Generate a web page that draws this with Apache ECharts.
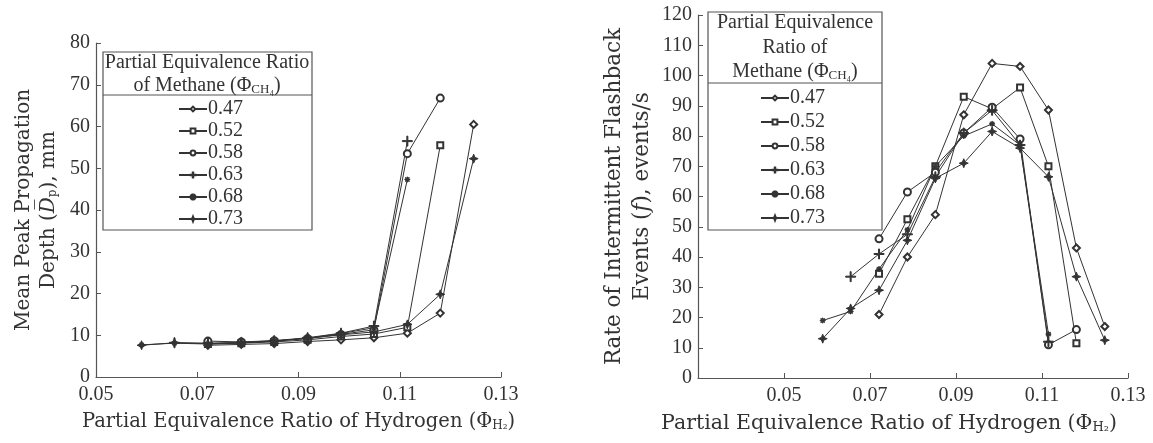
<!DOCTYPE html>
<html>
<head>
<meta charset="utf-8">
<script src="https://cdn.jsdelivr.net/npm/echarts@6/dist/echarts.min.js"></script>
<style>
  html, body { margin: 0; padding: 0; background: #fff; }
  #chart { width: 1153px; height: 443px; }
</style>
</head>
<body>
<div id="chart"></div>
<script>
// 数据区
var hydrogen = [0.0590, 0.0655, 0.0721, 0.0787, 0.0852, 0.0918, 0.0984, 0.1049, 0.1115, 0.1180, 0.1246];
var methane = ['0.47', '0.52', '0.58', '0.63', '0.68', '0.73'];

// 左图：平均峰值传播深度 mm
var depth47 = [null, null, 7.6, 7.8, 8.0, 8.5, 8.9, 9.4, 10.5, 15.3, 60.5];
var depth52 = [null, null, 7.9, 8.1, 8.4, 8.9, 9.7, 10.3, 11.9, 55.5, null];
var depth58 = [null, null, 8.6, 8.4, 8.7, 9.2, 10.2, 11.3, 53.5, 66.8, null];
var depth63 = [null, 8.2, 8.1, 8.3, 8.7, 9.4, 10.5, 12.2, 56.5, null, null];
var depth68 = [7.7, 8.1, 7.9, 8.2, 8.6, 9.3, 10.4, 11.8, 47.3, null, null];
var depth73 = [7.6, 8.2, 8.0, 8.2, 8.6, 9.3, 10.1, 10.8, 12.6, 19.8, 52.3];

// 右图：间歇回火频率 events/s
var rate47 = [null, null, 21, 40, 54, 87, 104, 103, 88.6, 43, 17];
var rate52 = [null, null, 34.5, 52.5, 70, 93, 89, 96, 70, 11.5, null];
var rate58 = [null, null, 46, 61.5, 68, 81, 89.5, 79, 11, 16, null];
var rate63 = [null, 33.5, 41, 47.5, 66.5, 81, 88.5, 77, 12, null, null];
var rate68 = [19, 22, 36, 49, 70, 80, 84, 77, 14.5, null, null];
var rate73 = [13, 23, 29, 45.5, 66, 71, 81.5, 76, 66.5, 33.5, 12.5];

var depthTicks = [0, 80, 10];
var rateTicks = [0, 120, 10];

(function() {
    var myChart = echarts.init(document.getElementById('chart'))
    var font = 'Liberation Serif'
    var titleFont = 'DejaVu Serif'
    var ink = '#333'

    // 标记样式
    var plus = 'path://M-0.1,-1 H0.1 V-0.1 H1 V0.1 H0.1 V1 H-0.1 V0.1 H-1 V-0.1 H-0.1 Z'
    var star4 = 'path://M0,-1 L0.28,-0.28 L1,0 L0.28,0.28 L0,1 L-0.28,0.28 L-1,0 L-0.28,-0.28 Z'
    var aster = 'path://M-0.15,-1 H0.15 V-0.35 L0.7,-0.8 L0.85,-0.6 L0.35,-0.15 H1 V0.15 H0.35 L0.85,0.6 L0.7,0.8 L0.15,0.35 V1 H-0.15 V0.35 L-0.7,0.8 L-0.85,0.6 L-0.35,0.15 H-1 V-0.15 H-0.35 L-0.85,-0.6 L-0.7,-0.8 L-0.15,-0.35 Z'
    var marks = [
        { symbol: 'emptyDiamond', size: 7 },
        { symbol: 'emptyRect', size: 6 },
        { symbol: 'emptyCircle', size: 7 },
        { symbol: plus, size: 10 },
        { symbol: aster, size: 5 },
        { symbol: star4, size: 9 }
    ]

    function pairs(vals) {
        var out = []
        hydrogen.forEach(function(x, i) {
            if (vals[i] != null) out.push([x, vals[i]])
        })
        return out
    }

    function makeSeries(list, idx) {
        return list.map(function(vals, k) {
            return {
                name: methane[k],
                type: 'line',
                xAxisIndex: idx,
                yAxisIndex: idx,
                data: pairs(vals),
                symbol: marks[k].symbol,
                symbolSize: marks[k].size,
                showAllSymbol: true,
                lineStyle: { color: ink, width: 1 },
                itemStyle: { color: ink, borderColor: ink, borderWidth: 1 },
                emphasis: { disabled: true },
                z: 3
            }
        })
    }

    // 坐标轴标题（富文本：斜体 / 下标）
    function titleRich(size, lh) {
        return {
            t: { fontFamily: titleFont, fontSize: size, color: ink, lineHeight: lh },
            i: { fontFamily: titleFont, fontSize: size, color: ink, fontStyle: 'italic', lineHeight: lh },
            s: { fontFamily: titleFont, fontSize: Math.round(size * 0.62), color: ink, padding: [8, 0, 0, 0] }
        }
    }

    function xAxisOf(idx, min, size) {
        return {
            type: 'value',
            gridIndex: idx,
            min: min,
            max: 0.13,
            interval: 0.02,
            name: '{t|Partial Equivalence Ratio of Hydrogen (Φ}{s|H₂}{t|)}',
            nameLocation: 'middle',
            nameGap: 35,
            nameTextStyle: {
                rich: titleRich(size),
                padding: idx === 1 ? [0, 48, 0, 0] : 0
            },
            axisLine: { lineStyle: { color: '#555', width: 1.2 } },
            axisTick: { inside: true, length: 5, lineStyle: { color: '#555' } },
            axisLabel: {
                fontFamily: font, fontSize: 20, color: ink, margin: 8,
                formatter: function(v) { return v < 0.04 ? '' : v.toFixed(2) }
            },
            splitLine: { show: false }
        }
    }

    function yAxisOf(idx, ticks, name, gap, size, lh) {
        return {
            type: 'value',
            gridIndex: idx,
            min: ticks[0],
            max: ticks[1],
            interval: ticks[2],
            name: name,
            nameLocation: 'middle',
            nameGap: gap,
            nameRotate: 90,
            nameTextStyle: {
                fontFamily: titleFont, fontSize: size, color: ink, lineHeight: lh,
                rich: titleRich(size, lh)
            },
            axisLine: { show: true, lineStyle: { color: '#555', width: 1.2 } },
            axisTick: { show: true, inside: true, length: 5, lineStyle: { color: '#555' } },
            axisLabel: { fontFamily: font, fontSize: 20, color: ink, margin: 6 },
            splitLine: { show: false }
        }
    }

    function legendOf(left, top, gap) {
        return {
            data: methane,
            orient: 'vertical',
            left: left,
            top: top,
            itemWidth: 28,
            itemHeight: 6,
            itemGap: gap,
            padding: 0,
            selectedMode: false,
            textStyle: { fontFamily: font, fontSize: 20, color: ink, padding: [0, 0, 0, -4] }
        }
    }

    function headText(x, y, step, lines) {
        return lines.map(function(t, i) {
            return {
                type: 'text',
                x: x,
                y: y + i * step,
                z: 10,
                style: {
                    text: t,
                    align: 'center',
                    textAlign: 'center',
                    verticalAlign: 'middle',
                    font: '20px "Liberation Serif"',
                    fill: ink,
                    rich: {
                        t: { fontFamily: font, fontSize: 20, color: ink },
                        s: { fontFamily: font, fontSize: 13, color: ink, padding: [7, 0, 0, 0] }
                    }
                }
            }
        })
    }

    var option = {
        animation: false,
        backgroundColor: '#fff',
        grid: [
            { left: 96, right: 652, top: 43, bottom: 66 },
            { left: 698, right: 25, top: 15, bottom: 65 }
        ],
        xAxis: [xAxisOf(0, 0.05, 19.5), xAxisOf(1, 0.03, 20.5)],
        yAxis: [
            yAxisOf(0, depthTicks, '{t|Mean Peak Propagation}\n{t|Depth (}{i|D̅}{s|p}{t|), mm}', 35, 20, 25),
            yAxisOf(1, rateTicks, '{t|Rate of Intermittent Flashback}\n{t|Events (}{i|f}{t|), events/s}', 42, 21.5, 28)
        ],
        legend: [legendOf(178, 99, 2), legendOf(760, 88, 4)],
        graphic: [
            { type: 'rect', shape: { x: 103, y: 52, width: 209, height: 178 }, style: { fill: '#fff', stroke: '#555', lineWidth: 1.2 }, z: 1 },
            { type: 'line', shape: { x1: 103, y1: 95, x2: 312, y2: 95 }, style: { stroke: '#555', lineWidth: 1.2 }, z: 1 },
            { type: 'rect', shape: { x: 708, y: 12, width: 174, height: 218 }, style: { fill: '#fff', stroke: '#555', lineWidth: 1.2 }, z: 1 },
            { type: 'line', shape: { x1: 708, y1: 83, x2: 882, y2: 83 }, style: { stroke: '#555', lineWidth: 1.2 }, z: 1 }
        ]
        .concat(headText(207, 63, 23, ['{t|Partial Equivalence Ratio}', '{t|of Methane (Φ}{s|CH₄}{t|)}']))
        .concat(headText(795, 23, 24.5, ['{t|Partial Equivalence}', '{t|Ratio of}', '{t|Methane (Φ}{s|CH₄}{t|)}'])),
        series: makeSeries([depth47, depth52, depth58, depth63, depth68, depth73], 0)
            .concat(makeSeries([rate47, rate52, rate58, rate63, rate68, rate73], 1))
    }
    myChart.setOption(option)
    window.addEventListener('resize', function() {
        myChart.resize()
    })
})();
</script>
</body>
</html>
